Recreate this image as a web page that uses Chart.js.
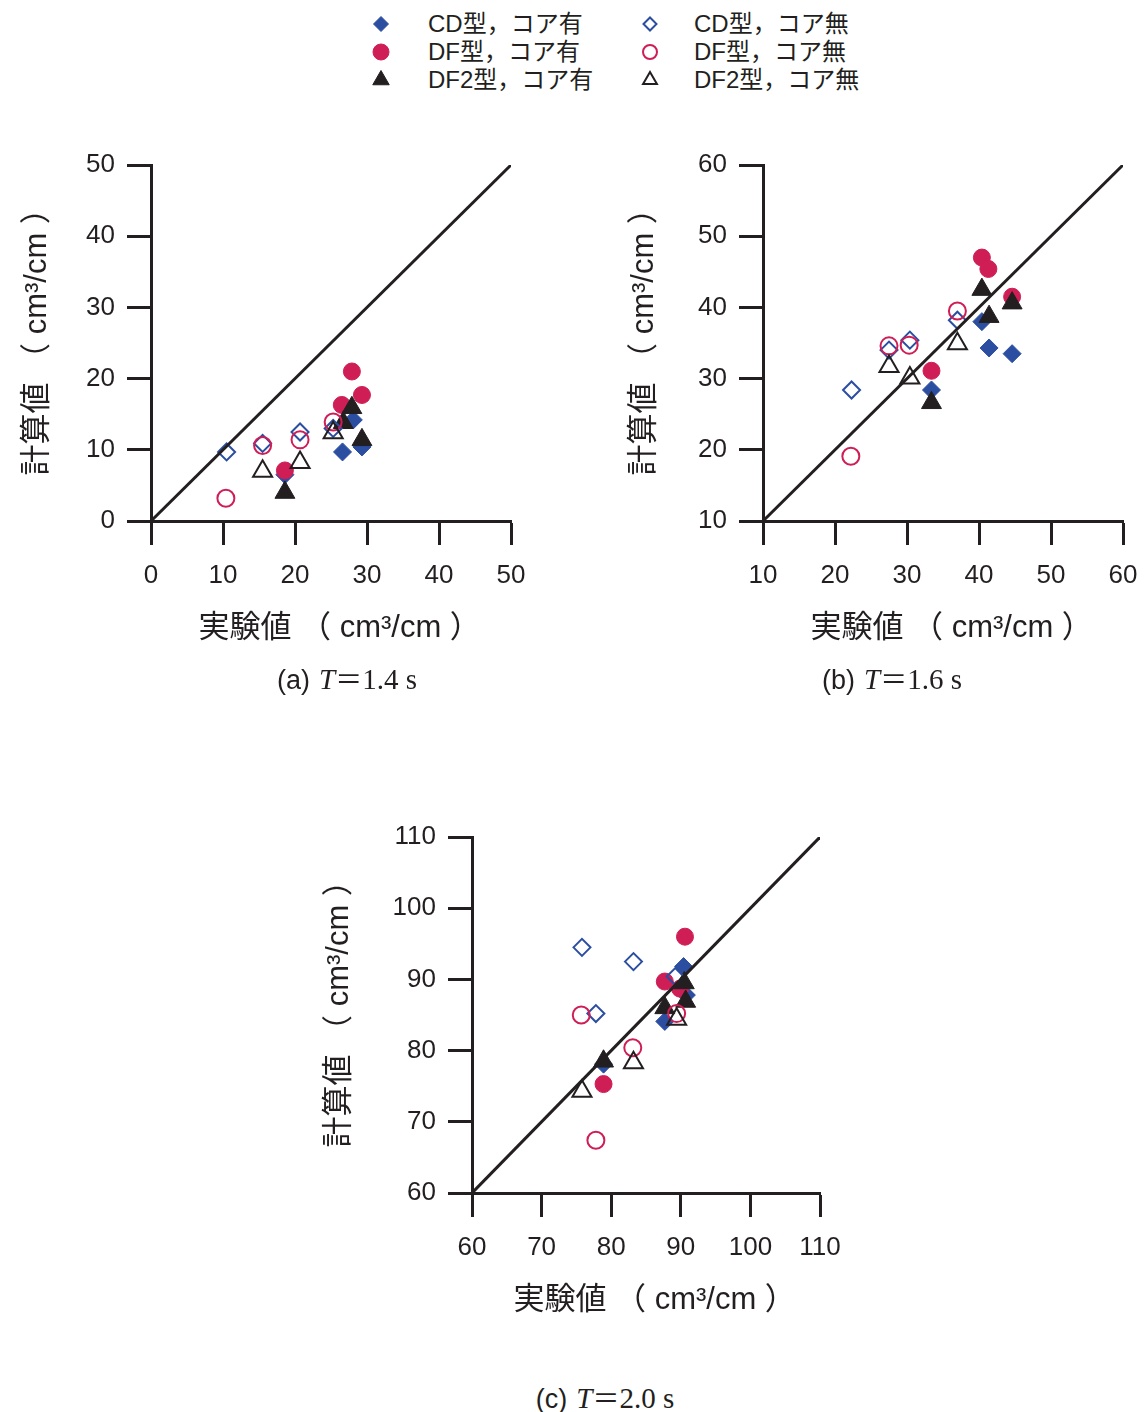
<!DOCTYPE html>
<html>
<head>
  <meta charset="utf-8">
  <title>計算値と実験値の比較</title>
  <style>
    body { margin: 0; background: #fff; width: 1146px; height: 1412px; position: relative; overflow: hidden;
           font-family: "Liberation Sans", "Noto Sans CJK JP", sans-serif; color: #231f20; }
    canvas.plot { position: absolute; }
    .item { position: absolute; font-size: 24px; line-height: 28px; white-space: nowrap; }
    .icon { position: absolute; }
    .caption { position: absolute; transform: translate(-50%, -50%); white-space: nowrap;
               font-family: "Liberation Serif", "Noto Sans CJK JP", serif; font-size: 29px; }
    .caption .tag { font-family: "Liberation Sans", "Noto Sans CJK JP", sans-serif; font-size: 27px; margin-right: 9px; }
    .caption .eq { font-family: "Noto Sans CJK JP", sans-serif; font-size: 27px; }
  </style>
  <script src="https://cdn.jsdelivr.net/npm/chart.js"></script>
</head>
<body>
  <div id="legend"></div>

  <canvas id="chartA" class="plot" width="541" height="523" style="left:0px; top:137px"></canvas>
  <canvas id="chartB" class="plot" width="546" height="523" style="left:607px; top:137px"></canvas>
  <canvas id="chartC" class="plot" width="560" height="523" style="left:302px; top:809px"></canvas>

  <div class="caption" style="left:347px; top:677px"><span class="tag">(a)</span><i>T</i><span class="eq">＝</span>1.4 s</div>
  <div class="caption" style="left:892px; top:677px"><span class="tag">(b)</span><i>T</i><span class="eq">＝</span>1.6 s</div>
  <div class="caption" style="left:605px; top:1396px"><span class="tag">(c)</span><i>T</i><span class="eq">＝</span>2.0 s</div>

  <script>
    // series labels (order matches the point arrays below)
    const seriesNames = ['CD型，コア有', 'CD型，コア無', 'DF型，コア有', 'DF型，コア無', 'DF2型，コア有', 'DF2型，コア無'];

    // axis ticks for each panel
    const ticksA = [0, 10, 20, 30, 40, 50];
    const ticksB = [10, 20, 30, 40, 50, 60];
    const ticksC = [60, 70, 80, 90, 100, 110];

    // (a) T=1.4 s  [実験値, 計算値]
    const a_cdCore   = [[18.6, 6.5], [26.6, 9.7], [28.1, 14.2], [29.3, 10.4]];
    const a_cdNone   = [[10.5, 9.7], [15.5, 10.9], [20.7, 12.5], [25.3, 13.0]];
    const a_dfCore   = [[18.6, 7.1], [26.5, 16.3], [27.9, 21.0], [29.3, 17.7]];
    const a_dfNone   = [[10.4, 3.2], [15.5, 10.6], [20.7, 11.4], [25.3, 13.9]];
    const a_df2Core  = [[18.6, 4.0], [26.7, 13.8], [27.9, 15.9], [29.3, 11.4]];
    const a_df2None  = [[15.5, 7.0], [20.7, 8.2], [25.3, 12.4]];

    // (b) T=1.6 s
    const b_cdCore   = [[33.4, 28.4], [40.4, 38.0], [41.4, 34.3], [44.6, 33.5]];
    const b_cdNone   = [[22.3, 28.4], [27.5, 34.0], [30.4, 35.4], [37.0, 38.2]];
    const b_dfCore   = [[33.4, 31.1], [40.4, 47.0], [41.3, 45.4], [44.6, 41.5]];
    const b_dfNone   = [[22.2, 19.1], [27.5, 34.6], [30.3, 34.7], [37.0, 39.5]];
    const b_df2Core  = [[33.4, 26.6], [40.4, 42.5], [41.4, 38.7], [44.6, 40.6]];
    const b_df2None  = [[27.5, 31.7], [30.4, 30.1], [37.0, 34.9]];

    // (c) T=2.0 s
    const c_cdCore   = [[78.9, 78.1], [87.7, 84.1], [90.4, 91.8], [90.8, 87.8]];
    const c_cdNone   = [[75.8, 94.5], [77.8, 85.2], [83.2, 92.5], [89.2, 90.4]];
    const c_dfCore   = [[78.9, 75.3], [87.7, 89.7], [89.9, 88.7], [90.6, 96.0]];
    const c_dfNone   = [[75.7, 85.0], [77.8, 67.4], [83.1, 80.4], [89.4, 85.2]];
    const c_df2Core  = [[78.9, 78.5], [87.7, 86.0], [90.5, 89.5], [90.7, 86.9]];
    const c_df2None  = [[75.8, 74.3], [83.2, 78.3], [89.4, 84.4]];

    const BLUE = '#2c4ea1', RED = '#cf1d56', BLACK = '#231f20';
    const NONE = 'rgba(0,0,0,0)';

    // marker style per series; lower order is drawn on top
    const styles = [
      { pointStyle: 'rectRot',  color: BLUE,  filled: true,  r: 9,    order: 6 },
      { pointStyle: 'rectRot',  color: BLUE,  filled: false, r: 8.5,  order: 3 },
      { pointStyle: 'circle',   color: RED,   filled: true,  r: 8.5,  order: 5 },
      { pointStyle: 'circle',   color: RED,   filled: false, r: 8.5,  order: 2 },
      { pointStyle: 'triangle', color: BLACK, filled: true,  r: 11.5, order: 4 },
      { pointStyle: 'triangle', color: BLACK, filled: false, r: 11,   order: 1 }
    ];

    const tickFont = { family: '"Liberation Sans", Arial, sans-serif', size: 26 };
    const titleFont = { family: '"Liberation Sans", "Noto Sans CJK JP", sans-serif', size: 31 };

    // leading spaces balance the empty half of the closing full-width bracket
    const xTitle = '  実験値 （ cm³/cm ）';
    const yTitle = '  計算値 （ cm³/cm ）';

    function axis(ticks, title, vertical, size) {
      return {
        type: 'linear',
        min: ticks[0],
        max: ticks[ticks.length - 1],
        ticks: { stepSize: 10, font: tickFont, color: BLACK, padding: vertical ? 12 : 15, maxRotation: 0, autoSkip: false },
        grid: { drawOnChartArea: false, drawTicks: true, tickLength: 24, tickWidth: 3, tickColor: BLACK },
        border: { display: true, color: BLACK, width: 3 },
        title: {
          display: true, text: title, font: titleFont, color: BLACK,
          padding: vertical ? { top: 19, bottom: 0 } : { top: 0, bottom: 13 }
        },
        afterFit: s => { if (vertical) s.width = size; else s.height = size; }
      };
    }

    function makeChart(id, ticks, series, yAxisWidth, rightPad) {
      const lo = ticks[0], hi = ticks[ticks.length - 1];
      const datasets = [{
        label: '1:1',
        data: [{ x: lo, y: lo }, { x: hi, y: hi }],
        showLine: true,
        borderColor: BLACK,
        borderWidth: 3,
        pointRadius: 0,
        order: 0
      }];
      series.forEach((pts, i) => {
        const s = styles[i];
        datasets.push({
          label: seriesNames[i],
          data: pts.map(p => ({ x: p[0], y: p[1] })),
          pointStyle: s.pointStyle,
          pointRadius: s.r,
          pointHoverRadius: s.r,
          backgroundColor: s.filled ? s.color : NONE,
          borderColor: s.color,
          borderWidth: s.filled ? 1 : 2,
          order: s.order
        });
      });
      return new Chart(document.getElementById(id), {
        type: 'scatter',
        data: { datasets },
        options: {
          responsive: false,
          animation: false,
          devicePixelRatio: 1,
          layout: { padding: { top: 28, right: rightPad, left: 0, bottom: 0 } },
          plugins: { legend: { display: false }, tooltip: { enabled: false } },
          scales: {
            x: axis(ticks, xTitle, false, 139),
            y: axis(ticks, yTitle, true, yAxisWidth)
          }
        }
      });
    }

    makeChart('chartA', ticksA, [a_cdCore, a_cdNone, a_dfCore, a_dfNone, a_df2Core, a_df2None], 151, 30);
    makeChart('chartB', ticksB, [b_cdCore, b_cdNone, b_dfCore, b_dfNone, b_df2Core, b_df2None], 156, 30);
    makeChart('chartC', ticksC, [c_cdCore, c_cdNone, c_dfCore, c_dfNone, c_df2Core, c_df2None], 170, 42);

    // legend: two columns, filled markers left, open markers right
    const legendCols = [{ icon: 381, text: 428 }, { icon: 650, text: 694 }];
    const legendRows = [24, 52, 80];
    const legendRadius = [7.5, 6.5, 8, 7, 9.5, 8];

    function drawIcon(canvas, s, r) {
      const ctx = canvas.getContext('2d');
      const cx = canvas.width / 2, cy = canvas.height / 2;
      ctx.fillStyle = s.filled ? s.color : NONE;
      ctx.strokeStyle = s.color;
      ctx.lineWidth = s.filled ? 1 : 2;
      if (Chart.helpers && Chart.helpers.drawPoint) {
        Chart.helpers.drawPoint(ctx, { pointStyle: s.pointStyle, radius: r, borderWidth: ctx.lineWidth, rotation: 0 }, cx, cy);
        return;
      }
      ctx.beginPath();
      if (s.pointStyle === 'circle') {
        ctx.arc(cx, cy, r, 0, Math.PI * 2);
      } else if (s.pointStyle === 'rectRot') {
        ctx.moveTo(cx, cy - r); ctx.lineTo(cx + r, cy); ctx.lineTo(cx, cy + r); ctx.lineTo(cx - r, cy);
      } else {
        const h = r * Math.sin(Math.PI / 3);
        ctx.moveTo(cx, cy - r); ctx.lineTo(cx + h, cy + r / 2); ctx.lineTo(cx - h, cy + r / 2);
      }
      ctx.closePath();
      ctx.fill();
      ctx.stroke();
    }

    const legend = document.getElementById('legend');
    seriesNames.forEach((name, i) => {
      const col = legendCols[i % 2], y = legendRows[Math.floor(i / 2)];
      const cv = document.createElement('canvas');
      cv.width = 26; cv.height = 26;
      cv.className = 'icon';
      cv.style.left = (col.icon - 13) + 'px';
      cv.style.top = (y - 13) + 'px';
      legend.appendChild(cv);
      drawIcon(cv, styles[i], legendRadius[i]);
      const t = document.createElement('div');
      t.className = 'item';
      t.style.left = col.text + 'px';
      t.style.top = (y - 14) + 'px';
      t.textContent = name;
      legend.appendChild(t);
    });
  </script>
</body>
</html>
